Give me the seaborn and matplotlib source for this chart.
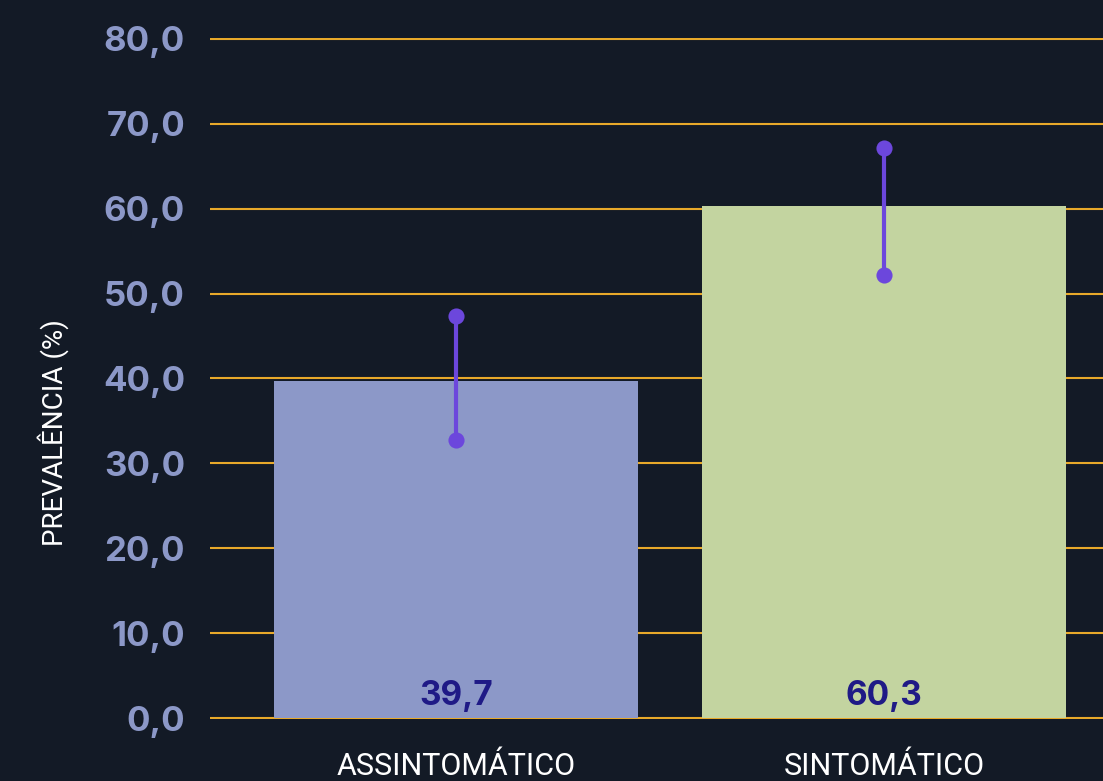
import matplotlib
matplotlib.use("Agg")
import matplotlib.pyplot as plt
import seaborn as sns
import pandas as pd
from matplotlib.ticker import FuncFormatter

# Dados
categorias = ["ASSINTOMÁTICO", "SINTOMÁTICO"]
prevalencia = [39.7, 60.3]
ic_inferior = [32.8, 52.2]
ic_superior = [47.4, 67.2]
yticks = [0, 10, 20, 30, 40, 50, 60, 70, 80]

# Cores
BG = "#131a26"
GRID = "#e8a92a"
CORES_BARRAS = ["#8c98c8", "#c3d4a0"]
COR_ERRO = "#6c47dc"
COR_TICK = "#8c98c8"
COR_VALOR = "#1f1a86"
FONTE_NUM = ["Inter", "DejaVu Sans"]
FONTE_TXT = ["Roboto", "DejaVu Sans"]

df = pd.DataFrame({"categoria": categorias, "prevalencia": prevalencia})

sns.set_theme(style="dark")
plt.rcParams["font.family"] = FONTE_NUM

fig = plt.figure(figsize=(11.03, 7.81), dpi=100, facecolor=BG)
# eixo: x de 210 px até a borda, y=0 em 718 px e y=80 em 39 px
ax = fig.add_axes([210 / 1103, (781 - 718.85) / 781, 1 - 210 / 1103, 680.7 / 781])
ax.set_facecolor(BG)

sns.barplot(data=df, x="categoria", y="prevalencia", hue="categoria",
            palette=CORES_BARRAS, width=0.85, legend=False, ax=ax,
            saturation=1, linewidth=0, zorder=2)

# Intervalos de confiança
xs = list(range(len(categorias)))
ax.vlines(xs, ic_inferior, ic_superior, color=COR_ERRO, lw=3, zorder=4)
ax.scatter(xs + xs, ic_inferior + ic_superior, s=135, color=COR_ERRO, zorder=5,
           linewidths=0)

# Rótulos de valor
for x, v in zip(xs, prevalencia):
    ax.text(x, 0.7, f"{v:.1f}".replace(".", ","), ha="center", va="bottom",
            fontsize=24, fontweight="bold", color=COR_VALOR, zorder=6,
            family=FONTE_NUM)

ax.set_ylim(-0.1, 80.1)
ax.set_xlim(-0.575, 1.512)
ax.set_yticks(yticks)
ax.yaxis.set_major_formatter(FuncFormatter(lambda v, p: f"{v:.1f}".replace(".", ",")))
ax.grid(axis="y", color=GRID, lw=1.5, zorder=0)
ax.grid(axis="x", visible=False)
ax.set_axisbelow(True)
for s in ax.spines.values():
    s.set_visible(False)

ax.tick_params(axis="y", length=0, pad=18, labelsize=25, labelcolor=COR_TICK)
for lbl in ax.get_yticklabels():
    lbl.set_fontweight("bold")
    lbl.set_family(FONTE_NUM)
ax.tick_params(axis="x", length=0, pad=24, labelsize=22, labelcolor="white")
for lbl in ax.get_xticklabels():
    lbl.set_family(FONTE_TXT)

ax.set_xlabel("")
ax.set_ylabel("PREVALÊNCIA (%)", color="white", fontsize=20, family=FONTE_TXT)
ax.yaxis.set_label_coords(-0.158, 0.42)

fig.savefig("out.png", dpi=100, facecolor=BG)
